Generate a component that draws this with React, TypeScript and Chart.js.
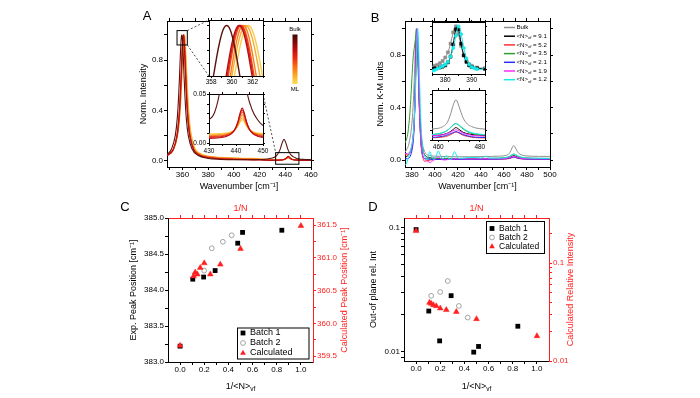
import React, { useEffect, useRef } from 'react';
import { Chart, registerables } from 'chart.js';

Chart.register(...registerables);

const FONT = '"Liberation Sans", Arial, Helvetica, sans-serif';
Chart.defaults.font.family = FONT;
const RED = '#ff1f1f';

// ---------------- Panel A : normalized Raman spectra [wavenumber, intensity] ----------------
const A_BULK = [[348,0.05],[351.5,0.095],[354.5,0.205],[356,0.34],[357,0.505],[357.75,0.675],[358.25,0.805],[358.75,0.92],[359.15,0.982],[359.5,1],[359.85,0.982],[360.25,0.92],[360.75,0.805],[361.25,0.675],[362,0.505],[363,0.34],[364.5,0.205],[367.5,0.095],[372,0.045],[380,0.02],[390,0.012],[400,0.009],[410,0.009],[420,0.011],[426,0.016],[430,0.024],[432,0.031],[434,0.053],[436,0.092],[437.5,0.141],[439,0.172],[440.5,0.141],[442,0.092],[444,0.053],[446,0.034],[448,0.024],[450,0.018],[455,0.012],[460,0.01]];
const A_S2 = [[348,0.042],[352.7,0.089],[355.7,0.2],[357.2,0.338],[358.2,0.5],[358.95,0.671],[359.45,0.8],[359.95,0.917],[360.35,0.981],[360.7,1],[361.05,0.981],[361.45,0.917],[361.95,0.8],[362.45,0.671],[363.2,0.5],[364.2,0.338],[365.7,0.2],[368.7,0.09],[373,0.046],[380,0.025],[390,0.016],[400,0.012],[410,0.009],[420,0.007],[430,0.0047],[434,0.0054],[436.3,0.0067],[438.3,0.0094],[439.6,0.0139],[440.7,0.0219],[441.5,0.0307],[442.3,0.036],[443.1,0.0307],[443.9,0.0219],[445,0.0139],[446.3,0.0094],[448.3,0.0067],[450,0.0057],[455,0.0046],[460,0.004]];
const A_S3 = [[348,0.042],[352.8,0.089],[355.8,0.2],[357.3,0.338],[358.3,0.5],[359.05,0.671],[359.55,0.8],[360.05,0.917],[360.45,0.981],[360.8,1],[361.15,0.981],[361.55,0.917],[362.05,0.8],[362.55,0.671],[363.3,0.5],[364.3,0.338],[365.8,0.2],[368.8,0.09],[373,0.048],[380,0.027],[390,0.018],[400,0.014],[410,0.011],[420,0.009],[430,0.0058],[434,0.0063],[436.3,0.0074],[438.3,0.0099],[439.6,0.014],[440.7,0.0212],[441.5,0.0292],[442.3,0.034],[443.1,0.0292],[443.9,0.0212],[445,0.014],[446.3,0.0099],[448.3,0.0074],[450,0.0065],[455,0.0056],[460,0.005]];
const A_S4 = [[348,0.043],[352.9,0.09],[355.9,0.2],[357.4,0.338],[358.4,0.5],[359.15,0.671],[359.65,0.8],[360.15,0.917],[360.55,0.981],[360.9,1],[361.25,0.981],[361.65,0.917],[362.15,0.8],[362.65,0.671],[363.4,0.5],[364.4,0.338],[365.9,0.2],[368.9,0.092],[373,0.05],[380,0.03],[390,0.02],[400,0.016],[410,0.013],[420,0.011],[430,0.0066],[434,0.0072],[436.3,0.0082],[438.3,0.0104],[439.6,0.0141],[440.7,0.0206],[441.5,0.0277],[442.3,0.032],[443.1,0.0277],[443.9,0.0206],[445,0.0141],[446.3,0.0104],[448.3,0.0082],[450,0.0074],[455,0.0065],[460,0.006]];
const A_S5 = [[348,0.044],[353.1,0.09],[356.1,0.2],[357.6,0.338],[358.6,0.5],[359.35,0.671],[359.85,0.8],[360.35,0.917],[360.75,0.981],[361.1,1],[361.45,0.981],[361.85,0.917],[362.35,0.8],[362.85,0.671],[363.6,0.5],[364.6,0.338],[366.1,0.2],[369.1,0.094],[373,0.055],[380,0.034],[390,0.024],[400,0.02],[410,0.017],[420,0.014],[430,0.0075],[434,0.008],[436.3,0.0088],[438.3,0.0107],[439.6,0.0138],[440.7,0.0193],[441.5,0.0254],[442.3,0.029],[443.1,0.0254],[443.9,0.0193],[445,0.0138],[446.3,0.0107],[448.3,0.0088],[450,0.0081],[455,0.0074],[460,0.007]];
const A_S6 = [[348,0.047],[353.35,0.102],[356.35,0.226],[357.85,0.373],[358.85,0.538],[359.6,0.704],[360.1,0.823],[360.6,0.928],[361.0,0.983],[361.35,1],[361.7,0.983],[362.1,0.928],[362.6,0.823],[363.1,0.704],[363.85,0.538],[364.85,0.373],[366.35,0.226],[369.35,0.102],[373,0.06],[380,0.036],[390,0.026],[400,0.022],[410,0.019],[420,0.016],[430,0.0084],[434,0.0088],[436.3,0.0095],[438.3,0.0111],[439.6,0.0136],[440.7,0.0181],[441.5,0.023],[442.3,0.026],[443.1,0.023],[443.9,0.0181],[445,0.0136],[446.3,0.0111],[448.3,0.0095],[450,0.0089],[455,0.0084],[460,0.008]];
const A_S7 = [[348,0.048],[353.6,0.102],[356.6,0.226],[358.1,0.373],[359.1,0.538],[359.85,0.704],[360.35,0.823],[360.85,0.928],[361.25,0.983],[361.6,1],[361.95,0.983],[362.35,0.928],[362.85,0.823],[363.35,0.704],[364.1,0.538],[365.1,0.373],[366.6,0.226],[369.6,0.102],[373,0.065],[380,0.038],[390,0.028],[400,0.024],[410,0.021],[420,0.018],[430,0.0093],[434,0.0097],[436.3,0.0102],[438.3,0.0116],[439.6,0.0137],[440.7,0.0174],[441.5,0.0215],[442.3,0.024],[443.1,0.0215],[443.9,0.0174],[445,0.0137],[446.3,0.0116],[448.3,0.0102],[450,0.0098],[455,0.0093],[460,0.009]];
const A_SERIES = [A_BULK, A_S2, A_S3, A_S4, A_S5, A_S6, A_S7];
const A_COLORS = ['#5a120c', '#b80f14', '#e2231a', '#f2521a', '#f7801f', '#f9aa30', '#fbcd45'];

const A_X_TICKS = [350, 360, 370, 380, 390, 400, 410, 420, 430, 440, 450, 460];
const A_X_LABELS = [360, 380, 400, 420, 440, 460];
const AB_Y_TICKS = [0, 0.2, 0.4, 0.6, 0.8, 1.0];
const AB_Y_LABELS = [0, 0.4, 0.8];
const A1_X_TICKS = [358, 359, 360, 361, 362, 363];
const A1_X_LABELS = [358, 360, 362];
const A1_Y_TICKS = [0.8, 0.85, 0.9, 0.95, 1.0];
const A2_X_TICKS = [430, 435, 440, 445, 450];
const A2_X_LABELS = [430, 440, 450];
const A2_Y_TICKS = [0, 0.01, 0.02, 0.03, 0.04, 0.05];
const A2_Y_LABELS = [0, 0.05];

// ---------------- Panel B : K-M spectra ----------------
const B_BULK = [[374,0.06],[376,0.09],[377,0.11],[378,0.15],[379,0.2],[380,0.28],[381,0.4],[382,0.6],[383,0.86],[383.5,0.97],[384,1.0],[384.5,0.95],[385,0.82],[386,0.55],[387,0.33],[388,0.2],[389,0.13],[390,0.09],[392,0.05],[395,0.035],[400,0.03],[410,0.026],[420,0.025],[430,0.025],[440,0.026],[450,0.028],[456,0.03],[460,0.032],[462,0.036],[464,0.045],[465,0.056],[466,0.072],[467,0.092],[468,0.107],[468.5,0.11],[469,0.107],[470,0.092],[471,0.075],[472,0.06],[474,0.044],[476,0.037],[478,0.033],[480,0.031],[485,0.029],[490,0.028],[500,0.028]];
const B_N91 = [[374,0.02],[376,0.03],[378,0.05],[379,0.07],[380,0.1],[381,0.17],[382,0.3],[383,0.58],[383.5,0.78],[384,0.93],[384.5,1.0],[385,0.93],[385.5,0.78],[386,0.6],[387,0.33],[388,0.18],[389,0.1],[390,0.06],[392,0.03],[395,0.018],[400,0.014],[410,0.012],[420,0.012],[440,0.012],[455,0.012],[460,0.013],[463,0.016],[465,0.02],[467,0.028],[468.5,0.034],[470,0.029],[472,0.021],[475,0.016],[480,0.013],[490,0.012],[500,0.012]];
const B_N52 = [[374,0.04],[376,0.04],[378,0.05],[379,0.07],[380,0.1],[381,0.16],[382,0.28],[383,0.55],[383.5,0.76],[384,0.93],[384.5,1.0],[385,0.92],[385.5,0.76],[386,0.56],[387,0.28],[388,0.12],[389,0.04],[390,0.005],[391,-0.01],[393,-0.005],[396,0.0],[400,0.004],[410,0.005],[420,0.005],[440,0.005],[455,0.006],[462,0.008],[465,0.012],[467,0.018],[468.5,0.022],[470,0.019],[472,0.013],[476,0.008],[480,0.006],[500,0.005]];
const B_N35 = [[374,0.13],[376,0.18],[377,0.24],[378,0.33],[379,0.46],[380,0.62],[381,0.77],[382,0.85],[383,0.92],[383.5,0.96],[384,1.0],[384.5,0.97],[385,0.86],[385.5,0.7],[386,0.52],[387,0.27],[388,0.11],[389,0.045],[390,0.02],[392,0.01],[396,0.01],[400,0.01],[410,0.012],[420,0.012],[440,0.012],[455,0.014],[460,0.017],[463,0.022],[465,0.029],[467,0.04],[468.5,0.045],[470,0.04],[472,0.03],[475,0.02],[480,0.015],[490,0.013],[500,0.013]];
const B_N21 = [[374,0.01],[376,0.01],[378,0.02],[379,0.04],[380,0.07],[381,0.13],[382,0.26],[383,0.55],[383.5,0.76],[384,0.93],[384.5,1.0],[385,0.93],[385.5,0.78],[386,0.58],[387,0.3],[388,0.13],[389,0.05],[390,0.02],[392,0.01],[400,0.005],[420,0.005],[440,0.006],[455,0.007],[462,0.01],[465,0.015],[467,0.02],[468.5,0.023],[470,0.02],[472,0.015],[476,0.009],[480,0.007],[500,0.006]];
const B_N19 = [[374,0.05],[376,0.05],[378,0.06],[379,0.08],[380,0.11],[381,0.17],[382,0.3],[383,0.56],[383.5,0.76],[384,0.93],[384.5,1.0],[385,0.92],[385.5,0.76],[386,0.56],[387,0.28],[388,0.12],[389,0.05],[390,0.02],[392,0.0],[394,-0.01],[396,-0.02],[398,-0.005],[400,0.005],[403,0.025],[405,0.01],[408,0.0],[412,0.005],[420,0.01],[430,0.008],[440,0.01],[450,0.01],[458,0.012],[462,0.014],[465,0.019],[467,0.025],[468.5,0.028],[470,0.025],[472,0.019],[476,0.013],[480,0.011],[490,0.01],[500,0.01]];
const B_N12 = [[374,-0.04],[375,-0.03],[376,-0.01],[377,0.02],[378,0.05],[379,0.08],[380,0.12],[381,0.18],[382,0.3],[383,0.5],[384,0.78],[384.5,0.92],[385,1.0],[385.5,0.96],[386,0.82],[387,0.5],[388,0.26],[389,0.12],[390,0.06],[391,0.03],[392,0.015],[393.5,0.005],[395.5,0.065],[397.5,0.02],[399,0.005],[401,0.03],[403,0.07],[405,0.03],[407,0.01],[410,0.035],[412,0.01],[414,0.005],[417,0.065],[419.5,0.02],[422,0.012],[430,0.02],[436,0.02],[440,0.015],[444.5,0.03],[447,0.015],[455,0.015],[460,0.017],[463,0.022],[465,0.029],[467,0.04],[468.5,0.045],[470,0.041],[472,0.032],[475,0.022],[480,0.016],[490,0.013],[500,0.012]];
const B_SERIES = [B_BULK, B_N91, B_N52, B_N35, B_N21, B_N19, B_N12];
const B_NVF = ['', '9.1', '5.2', '3.5', '2.1', '1.9', '1.2'];
const B_COLORS = ['#8f8f8f', '#000000', '#ff3030', '#2e9e2e', '#2b2bff', '#ff2bff', '#14ecec'];

const B_X_TICKS = [380, 390, 400, 410, 420, 430, 440, 450, 460, 470, 480, 490, 500];
const B_X_LABELS = [380, 400, 420, 440, 460, 480, 500];
const B1_X_TICKS = [375, 380, 385, 390, 395];
const B1_X_LABELS = [380, 390];
const B1_Y_TICKS = [0, 0.2, 0.4, 0.6, 0.8, 1.0];
const B2_X_TICKS = [460, 465, 470, 475, 480];
const B2_X_LABELS = [460, 480];
const B2_Y_TICKS = [0, 0.025, 0.05, 0.075, 0.1, 0.125];

// ---------------- Panels C / D ----------------
const X_BATCH1 = [0, 0.105, 0.195, 0.29, 0.477, 0.517, 0.842];
const X_BATCH2 = [0.125, 0.199, 0.262, 0.354, 0.427];
const X_CALC = [0, 0.111, 0.125, 0.143, 0.167, 0.2, 0.25, 0.333, 0.5, 1.0];
const C_BATCH1 = [383.22, 384.15, 384.18, 384.27, 384.65, 384.8, 384.83];
const C_BATCH2 = [384.22, 384.27, 384.58, 384.67, 384.76];
const C_CALC = [359.66, 360.72, 360.78, 360.75, 360.85, 360.92, 360.75, 360.9, 361.14, 361.49];
const D_BATCH1 = [0.096, 0.0212, 0.0122, 0.0282, 0.0099, 0.011, 0.016];
const D_BATCH2 = [0.0281, 0.0302, 0.037, 0.0233, 0.0188];
const D_CALC = [0.214, 0.0395, 0.0386, 0.0374, 0.0365, 0.0346, 0.0333, 0.0318, 0.0269, 0.018];

const CD_X_TICKS = [0, 0.1, 0.2, 0.3, 0.4, 0.5, 0.6, 0.7, 0.8, 0.9, 1.0];
const CD_X_LABELS = [0, 0.2, 0.4, 0.6, 0.8, 1.0];
const C_Y_TICKS = [383, 383.25, 383.5, 383.75, 384, 384.25, 384.5, 384.75, 385];
const C_Y_LABELS = [383, 383.5, 384, 384.5, 385];
const C_Y2_TICKS = [359.5, 359.75, 360, 360.25, 360.5, 360.75, 361, 361.25, 361.5];
const C_Y2_LABELS = [359.5, 360, 360.5, 361, 361.5];
const D_Y_TICKS = [0.009, 0.01, 0.02, 0.03, 0.04, 0.05, 0.06, 0.07, 0.08, 0.09, 0.1];
const D_Y2_TICKS = [0.01, 0.02, 0.03, 0.04, 0.05, 0.06, 0.07, 0.08, 0.09, 0.1, 0.2];
const D_LABELS = [0.01, 0.1];

// ---------------- layout ----------------
type Rect = { l: number; t: number; r: number; b: number };
const A_RECT: Rect = { l: 167, t: 21, r: 311, b: 167 };
const A_M: Rect = { l: 67, t: 21, r: 29, b: 29 };
const A1_RECT: Rect = { l: 209, t: 20, r: 263, b: 76 };
const A1_M: Rect = { l: 14, t: 6, r: 6, b: 13 };
const A2_RECT: Rect = { l: 209, t: 94, r: 263, b: 144 };
const A2_M: Rect = { l: 30, t: 8, r: 9, b: 15 };
const B_RECT: Rect = { l: 405, t: 21, r: 550, b: 167 };
const B_M: Rect = { l: 65, t: 21, r: 30, b: 29 };
const B1_RECT: Rect = { l: 432, t: 22, r: 485, b: 74 };
const B1_M: Rect = { l: 6, t: 5, r: 6, b: 13 };
const B2_RECT: Rect = { l: 432, t: 90, r: 485, b: 140 };
const B2_M: Rect = { l: 6, t: 5, r: 6, b: 15 };
const C_RECT: Rect = { l: 168, t: 218, r: 313, b: 362 };
const C_M: Rect = { l: 68, t: 22, r: 67, b: 36 };
const D_RECT: Rect = { l: 404, t: 218, r: 549, b: 361 };
const D_M: Rect = { l: 59, t: 22, r: 46, b: 37 };

const near = (a: number, b: number) => Math.abs(a - b) < 1e-9;

interface AxisOpt {
  pos: 'left' | 'right' | 'top' | 'bottom';
  min: number; max: number; log?: boolean;
  ticks: number[]; labeled?: number[]; fmt?: (v: number) => string;
  fit: number; color?: string; font?: number; tickLen?: number; pad?: number;
  title?: string; titleSize?: number;
}
function axis(o: AxisOpt) {
  const color = o.color ?? '#000';
  const horiz = o.pos === 'top' || o.pos === 'bottom';
  const labeled = o.labeled ?? [];
  return {
    type: o.log ? 'logarithmic' : 'linear',
    axis: horiz ? 'x' : 'y',
    position: o.pos,
    min: o.min, max: o.max,
    bounds: 'data',
    border: { display: true, color, width: 1 },
    grid: { display: true, drawOnChartArea: false, drawTicks: true, tickLength: o.tickLen ?? 3, tickColor: color, tickWidth: 1 },
    ticks: {
      display: labeled.length > 0,
      autoSkip: false, maxRotation: 0, minRotation: 0,
      padding: o.pad ?? 1, color,
      font: { size: o.font ?? 8, family: FONT },
      callback: (v: any) => {
        const n = Number(v);
        return labeled.some((l) => near(l, n)) ? (o.fmt ? o.fmt(n) : String(n)) : '';
      },
    },
    afterBuildTicks: (s: any) => { s.ticks = o.ticks.map((v) => ({ value: v })); },
    afterFit: (s: any) => { if (horiz) s.height = o.fit; else s.width = o.fit; },
    title: o.title
      ? { display: true, text: o.title, color, font: { size: o.titleSize ?? 9, family: FONT }, padding: { top: 4, bottom: 4 } }
      : { display: false },
  };
}

function padFor(m: Rect, fit: Rect) {
  return { left: m.l - fit.l, right: m.r - fit.r, top: m.t - fit.t, bottom: m.b - fit.b };
}

function lineDs(data: number[][], color: string, width = 1, extra: any = {}) {
  return {
    type: 'line',
    data: data.map(([x, y]) => ({ x, y })),
    borderColor: color, backgroundColor: color, borderWidth: width,
    pointRadius: 0, cubicInterpolationMode: 'monotone', fill: false,
    ...extra,
  };
}

function baseOptions(padding: any, scales: any) {
  return {
    responsive: false, animation: false, events: [],
    layout: { padding },
    plugins: { legend: { display: false }, tooltip: { enabled: false } },
    scales,
  };
}

const whiteArea = {
  id: 'whiteArea',
  beforeDraw(chart: any) {
    const { ctx, chartArea: a } = chart;
    ctx.save(); ctx.fillStyle = '#fff'; ctx.fillRect(a.left, a.top, a.right - a.left, a.bottom - a.top); ctx.restore();
  },
};

type Part = { t: string; sub?: boolean };
function rich(ctx: any, parts: Part[], x: number, y: number, size: number, color: string, align: 'left' | 'center', rot = 0) {
  ctx.save();
  ctx.translate(x, y);
  if (rot) ctx.rotate(rot);
  ctx.fillStyle = color; ctx.textBaseline = 'middle'; ctx.textAlign = 'left';
  const sub = size * 0.72;
  let total = 0;
  for (const p of parts) { ctx.font = `${p.sub ? sub : size}px ${FONT}`; total += ctx.measureText(p.t).width; }
  let cx = align === 'center' ? -total / 2 : 0;
  for (const p of parts) {
    ctx.font = `${p.sub ? sub : size}px ${FONT}`;
    ctx.fillText(p.t, cx, p.sub ? size * 0.32 : 0);
    cx += ctx.measureText(p.t).width;
  }
  ctx.restore();
}

function marker(ctx: any, kind: string, x: number, y: number) {
  ctx.save();
  ctx.beginPath();
  if (kind === 'rect') {
    ctx.fillStyle = '#000'; ctx.fillRect(x - 2.4, y - 2.4, 4.8, 4.8);
  } else if (kind === 'circle') {
    ctx.strokeStyle = '#9a9a9a'; ctx.lineWidth = 0.9; ctx.arc(x, y, 2.4, 0, Math.PI * 2); ctx.stroke();
  } else {
    const r = 3.3;
    ctx.fillStyle = RED;
    ctx.moveTo(x, y - r);
    ctx.lineTo(x + r * 0.866, y + r * 0.5);
    ctx.lineTo(x - r * 0.866, y + r * 0.5);
    ctx.closePath(); ctx.fill();
  }
  ctx.restore();
}

function ChartBox({ rect, m, build }: { rect: Rect; m: Rect; build: (ox: number, oy: number) => any }) {
  const ref = useRef<HTMLCanvasElement>(null);
  const left = rect.l - m.l;
  const top = rect.t - m.t;
  const w = rect.r - rect.l + m.l + m.r;
  const h = rect.b - rect.t + m.t + m.b;
  useEffect(() => {
    const chart = new Chart(ref.current as HTMLCanvasElement, build(left, top));
    return () => chart.destroy();
  }, []);
  return <canvas ref={ref} width={w} height={h} style={{ position: 'absolute', left, top, width: w, height: h }} />;
}

// ---------------- builders ----------------
const fmt1 = (v: number) => v.toFixed(1);
const fmtInt = (v: number) => String(Math.round(v));

function buildA(ox: number, oy: number) {
  const fit = { l: 33, r: 4, t: 4, b: 29 };
  const decor = {
    id: 'decorA',
    afterDraw(chart: any) {
      const { ctx } = chart;
      const sx = chart.scales.x, sy = chart.scales.y;
      const px = (v: number) => sx.getPixelForValue(v);
      const py = (v: number) => sy.getPixelForValue(v);
      ctx.save();
      ctx.strokeStyle = '#000'; ctx.lineWidth = 1;
      const b1 = [355.8, 363.8, 0.92, 1.034];
      const b2 = [432.5, 450.6, -0.026, 0.066];
      for (const b of [b1, b2]) ctx.strokeRect(px(b[0]), py(b[3]), px(b[1]) - px(b[0]), py(b[2]) - py(b[3]));
      ctx.setLineDash([2, 2]); ctx.strokeStyle = '#222'; ctx.lineWidth = 0.8;
      ctx.beginPath();
      ctx.moveTo(px(b1[1]), py(b1[3])); ctx.lineTo(A1_RECT.l - ox, A1_RECT.t - oy);
      ctx.moveTo(px(b1[1]), py(b1[2])); ctx.lineTo(A1_RECT.l - ox, A1_RECT.b - oy);
      ctx.moveTo(A2_RECT.r - ox, A2_RECT.t - oy); ctx.lineTo(px(b2[0]), py(b2[3]));
      ctx.stroke();
      ctx.setLineDash([]);
      // colour bar
      const cbx = 292.5 - ox, cby = 34.5 - oy, cbh = 49.5;
      const g = ctx.createLinearGradient(0, cby, 0, cby + cbh);
      g.addColorStop(0, '#3d0804'); g.addColorStop(0.15, '#7a0a08'); g.addColorStop(0.32, '#c40d0d');
      g.addColorStop(0.48, '#ee2a0a'); g.addColorStop(0.64, '#f86a10'); g.addColorStop(0.82, '#fba825'); g.addColorStop(1, '#fde050');
      ctx.fillStyle = g; ctx.fillRect(cbx, cby, 5, cbh);
      ctx.restore();
      rich(ctx, [{ t: 'Bulk' }], 295 - ox, 29.5 - oy, 6, '#000', 'center');
      rich(ctx, [{ t: 'ML' }], 295 - ox, 89.5 - oy, 6, '#000', 'center');
      rich(ctx, [{ t: 'A' }], 147 - ox, 16 - oy, 13, '#000', 'center');
    },
  };
  return {
    type: 'line',
    data: { datasets: A_SERIES.map((s, i) => lineDs(s, A_COLORS[i], 1.1)) },
    options: baseOptions(padFor(A_M, fit), {
      x: axis({ pos: 'bottom', min: 348, max: 460, ticks: A_X_TICKS, labeled: A_X_LABELS, fmt: fmtInt, fit: fit.b, pad: 0, title: 'Wavenumber [cm⁻¹]' }),
      x2: axis({ pos: 'top', min: 348, max: 460, ticks: A_X_TICKS, fit: fit.t }),
      y: axis({ pos: 'left', min: -0.048, max: 1.11, ticks: AB_Y_TICKS, labeled: AB_Y_LABELS, fmt: fmt1, fit: fit.l, title: 'Norm. Intensity' }),
      y2: axis({ pos: 'right', min: -0.048, max: 1.11, ticks: AB_Y_TICKS, fit: fit.r }),
    }),
    plugins: [decor],
  };
}

function buildA1() {
  const fit = { l: 3, r: 3, t: 3, b: 13 };
  return {
    type: 'line',
    data: { datasets: A_SERIES.map((s, i) => lineDs(s, A_COLORS[i], 1.4)) },
    options: baseOptions(padFor(A1_M, fit), {
      x: axis({ pos: 'bottom', min: 357.8, max: 363, ticks: A1_X_TICKS, labeled: A1_X_LABELS, fmt: fmtInt, fit: fit.b, font: 6.5, tickLen: 2, pad: 0 }),
      x2: axis({ pos: 'top', min: 357.8, max: 363, ticks: A1_X_TICKS, fit: fit.t, tickLen: 2 }),
      y: axis({ pos: 'left', min: 0.8, max: 1.022, ticks: A1_Y_TICKS, fit: fit.l, tickLen: 2 }),
      y2: axis({ pos: 'right', min: 0.8, max: 1.022, ticks: A1_Y_TICKS, fit: fit.r, tickLen: 2 }),
    }),
    plugins: [whiteArea],
  };
}

function buildA2() {
  const fit = { l: 18, r: 3, t: 3, b: 15 };
  return {
    type: 'line',
    data: { datasets: A_SERIES.map((s, i) => lineDs(s, A_COLORS[i], 1.1)) },
    options: baseOptions(padFor(A2_M, fit), {
      x: axis({ pos: 'bottom', min: 430, max: 450, ticks: A2_X_TICKS, labeled: A2_X_LABELS, fmt: fmtInt, fit: fit.b, font: 6.5, tickLen: 2, pad: 1 }),
      x2: axis({ pos: 'top', min: 430, max: 450, ticks: A2_X_TICKS, fit: fit.t, tickLen: 2 }),
      y: axis({ pos: 'left', min: -0.001, max: 0.0505, ticks: A2_Y_TICKS, labeled: A2_Y_LABELS, fmt: (v) => v.toFixed(2), fit: fit.l, font: 6.5, tickLen: 2 }),
      y2: axis({ pos: 'right', min: -0.001, max: 0.0505, ticks: A2_Y_TICKS, fit: fit.r, tickLen: 2 }),
    }),
    plugins: [whiteArea],
  };
}

function buildB(ox: number, oy: number) {
  const fit = { l: 34, r: 4, t: 4, b: 29 };
  const decor = {
    id: 'decorB',
    afterDraw(chart: any) {
      const { ctx } = chart;
      B_SERIES.forEach((_, i) => {
        const y = 27.5 + i * 8.7 - oy;
        ctx.save();
        ctx.strokeStyle = B_COLORS[i]; ctx.lineWidth = 1.5;
        ctx.beginPath(); ctx.moveTo(504 - ox, y); ctx.lineTo(515 - ox, y); ctx.stroke();
        ctx.restore();
        const parts: Part[] = i === 0 ? [{ t: 'Bulk' }] : [{ t: '<N>' }, { t: 'vf', sub: true }, { t: ' = ' + B_NVF[i] }];
        rich(ctx, parts, 516.5 - ox, y, 6.1, '#000', 'left');
      });
      rich(ctx, [{ t: 'B' }], 375 - ox, 18 - oy, 13, '#000', 'center');
    },
  };
  const order = [6, 5, 4, 3, 2, 1, 0];
  return {
    type: 'line',
    data: { datasets: order.map((i) => lineDs(B_SERIES[i], B_COLORS[i], 1)) },
    options: baseOptions(padFor(B_M, fit), {
      x: axis({ pos: 'bottom', min: 374, max: 500, ticks: B_X_TICKS, labeled: B_X_LABELS, fmt: fmtInt, fit: fit.b, pad: 0, title: 'Wavenumber [cm⁻¹]' }),
      x2: axis({ pos: 'top', min: 374, max: 500, ticks: B_X_TICKS, fit: fit.t }),
      y: axis({ pos: 'left', min: -0.053, max: 1.06, ticks: AB_Y_TICKS, labeled: AB_Y_LABELS, fmt: fmt1, fit: fit.l, title: 'Norm. K-M units' }),
      y2: axis({ pos: 'right', min: -0.053, max: 1.06, ticks: AB_Y_TICKS, fit: fit.r }),
    }),
    plugins: [decor],
  };
}

function buildB1() {
  const fit = { l: 3, r: 3, t: 3, b: 13 };
  const mk = (style: string, r: number) => ({
    pointStyle: style,
    pointRadius: (c: any) => (c.raw && Number.isInteger(c.raw.x) ? r : 0),
    pointBorderWidth: 0.6,
  });
  return {
    type: 'line',
    data: {
      datasets: [
        lineDs(B_N12, B_COLORS[6], 1, mk('circle', 1.6)),
        lineDs(B_N91, B_COLORS[1], 1, mk('rect', 2.1)),
        lineDs(B_BULK, B_COLORS[0], 1, mk('rect', 2.1)),
      ],
    },
    options: baseOptions(padFor(B1_M, fit), {
      x: axis({ pos: 'bottom', min: 375, max: 395, ticks: B1_X_TICKS, labeled: B1_X_LABELS, fmt: fmtInt, fit: fit.b, font: 6.5, tickLen: 2, pad: 0 }),
      x2: axis({ pos: 'top', min: 375, max: 395, ticks: B1_X_TICKS, fit: fit.t, tickLen: 2 }),
      y: axis({ pos: 'left', min: -0.1, max: 1.1, ticks: B1_Y_TICKS, fit: fit.l, tickLen: 2 }),
      y2: axis({ pos: 'right', min: -0.1, max: 1.1, ticks: B1_Y_TICKS, fit: fit.r, tickLen: 2 }),
    }),
    plugins: [whiteArea],
  };
}

function buildB2() {
  const fit = { l: 3, r: 3, t: 3, b: 15 };
  const order = [6, 5, 4, 3, 2, 1, 0];
  return {
    type: 'line',
    data: { datasets: order.map((i) => lineDs(B_SERIES[i], B_COLORS[i], 1)) },
    options: baseOptions(padFor(B2_M, fit), {
      x: axis({ pos: 'bottom', min: 457, max: 482.5, ticks: B2_X_TICKS, labeled: B2_X_LABELS, fmt: fmtInt, fit: fit.b, font: 6.5, tickLen: 2, pad: 1 }),
      x2: axis({ pos: 'top', min: 457, max: 482.5, ticks: B2_X_TICKS, fit: fit.t, tickLen: 2 }),
      y: axis({ pos: 'left', min: 0, max: 0.137, ticks: B2_Y_TICKS, fit: fit.l, tickLen: 2 }),
      y2: axis({ pos: 'right', min: 0, max: 0.137, ticks: B2_Y_TICKS, fit: fit.r, tickLen: 2 }),
    }),
    plugins: [whiteArea],
  };
}

function scatterSets(y1: number[], y2: number[], y3: number[]) {
  return [
    {
      type: 'scatter', label: 'Calculated', xAxisID: 'x2', yAxisID: 'y2',
      data: X_CALC.map((x, i) => ({ x, y: y3[i] })),
      pointStyle: 'triangle', pointRadius: 3.3, backgroundColor: RED, borderColor: RED, borderWidth: 0.5,
    },
    {
      type: 'scatter', label: 'Batch 2',
      data: X_BATCH2.map((x, i) => ({ x, y: y2[i] })),
      pointStyle: 'circle', pointRadius: 2.4, backgroundColor: 'rgba(0,0,0,0)', borderColor: '#9a9a9a', borderWidth: 0.9,
    },
    {
      type: 'scatter', label: 'Batch 1',
      data: X_BATCH1.map((x, i) => ({ x, y: y1[i] })),
      pointStyle: 'rect', pointRadius: 3.4, backgroundColor: '#000', borderColor: '#000', borderWidth: 0,
    },
  ];
}

function legendBox(ctx: any, box: Rect, ox: number, oy: number, rowY: number[], size: number) {
  ctx.save();
  ctx.strokeStyle = '#000'; ctx.lineWidth = 1;
  ctx.strokeRect(box.l - ox + 0.5, box.t - oy + 0.5, box.r - box.l, box.b - box.t);
  ctx.restore();
  const items: [string, string][] = [['rect', 'Batch 1'], ['circle', 'Batch 2'], ['tri', 'Calculated']];
  items.forEach(([k, label], i) => {
    marker(ctx, k, box.l + 6 - ox, rowY[i] - oy);
    rich(ctx, [{ t: label }], box.l + 13 - ox, rowY[i] - oy, size, '#000', 'left');
  });
}

function buildC(ox: number, oy: number) {
  const fit = { l: 44, r: 40, t: 19, b: 36 };
  const decor = {
    id: 'decorC',
    afterDraw(chart: any) {
      const { ctx } = chart;
      const a = chart.chartArea;
      legendBox(ctx, { l: 237, t: 327.5, r: 308.5, b: 358.5 }, ox, oy, [333, 343, 353], 9);
      rich(ctx, [{ t: '1/<N>' }, { t: 'vf', sub: true }], (a.left + a.right) / 2, 386.5 - oy, 9, '#000', 'center');
      rich(ctx, [{ t: 'Calculated Peak Position [cm⁻¹]' }], 345 - ox, (a.top + a.bottom) / 2, 9, RED, 'center', -Math.PI / 2);
      rich(ctx, [{ t: 'C' }], 125 - ox, 207 - oy, 13, '#000', 'center');
    },
  };
  return {
    type: 'scatter',
    data: { datasets: scatterSets(C_BATCH1, C_BATCH2, C_CALC) },
    options: baseOptions(padFor(C_M, fit), {
      x: axis({ pos: 'bottom', min: -0.1, max: 1.1, ticks: CD_X_TICKS, labeled: CD_X_LABELS, fmt: fmt1, fit: fit.b, pad: 0 }),
      x2: axis({ pos: 'top', min: -0.1, max: 1.1, ticks: CD_X_TICKS, fit: fit.t, color: RED, title: '1/N' }),
      y: axis({ pos: 'left', min: 383, max: 385, ticks: C_Y_TICKS, labeled: C_Y_LABELS, fmt: fmt1, fit: fit.l, title: 'Exp. Peak Position [cm⁻¹]' }),
      y2: axis({ pos: 'right', min: 359.41, max: 361.61, ticks: C_Y2_TICKS, labeled: C_Y2_LABELS, fmt: fmt1, fit: fit.r, color: RED }),
    }),
    plugins: [decor],
  };
}

function buildD(ox: number, oy: number) {
  const fit = { l: 40, r: 40, t: 19, b: 37 };
  const decor = {
    id: 'decorD',
    afterDraw(chart: any) {
      const { ctx } = chart;
      const a = chart.chartArea;
      legendBox(ctx, { l: 486, t: 221, r: 544, b: 253 }, ox, oy, [228.5, 237.5, 246.5], 8.5);
      rich(ctx, [{ t: '1/<N>' }, { t: 'vf', sub: true }], (a.left + a.right) / 2, 386.5 - oy, 9, '#000', 'center');
      rich(ctx, [{ t: 'Calculated Relative Intensity' }], 571 - ox, (a.top + a.bottom) / 2, 9, RED, 'center', -Math.PI / 2);
      rich(ctx, [{ t: 'D' }], 373 - ox, 207 - oy, 13, '#000', 'center');
    },
  };
  return {
    type: 'scatter',
    data: { datasets: scatterSets(D_BATCH1, D_BATCH2, D_CALC) },
    options: baseOptions(padFor(D_M, fit), {
      x: axis({ pos: 'bottom', min: -0.1, max: 1.1, ticks: CD_X_TICKS, labeled: CD_X_LABELS, fmt: fmt1, fit: fit.b, pad: 0 }),
      x2: axis({ pos: 'top', min: -0.1, max: 1.1, ticks: CD_X_TICKS, fit: fit.t, color: RED, title: '1/N' }),
      y: axis({ pos: 'left', log: true, min: 0.0084, max: 0.119, ticks: D_Y_TICKS, labeled: D_LABELS, fit: fit.l, title: 'Out-of plane rel. Int' }),
      y2: axis({ pos: 'right', log: true, min: 0.01, max: 0.29, ticks: D_Y2_TICKS, labeled: D_LABELS, fit: fit.r, color: RED }),
    }),
    plugins: [decor],
  };
}

export default function App() {
  return (
    <div style={{ position: 'fixed', left: 0, top: 0, width: 700, height: 398, background: '#fff', overflow: 'hidden' }}>
      <ChartBox rect={A_RECT} m={A_M} build={buildA} />
      <ChartBox rect={A1_RECT} m={A1_M} build={buildA1} />
      <ChartBox rect={A2_RECT} m={A2_M} build={buildA2} />
      <ChartBox rect={B_RECT} m={B_M} build={buildB} />
      <ChartBox rect={B1_RECT} m={B1_M} build={buildB1} />
      <ChartBox rect={B2_RECT} m={B2_M} build={buildB2} />
      <ChartBox rect={C_RECT} m={C_M} build={buildC} />
      <ChartBox rect={D_RECT} m={D_M} build={buildD} />
    </div>
  );
}
